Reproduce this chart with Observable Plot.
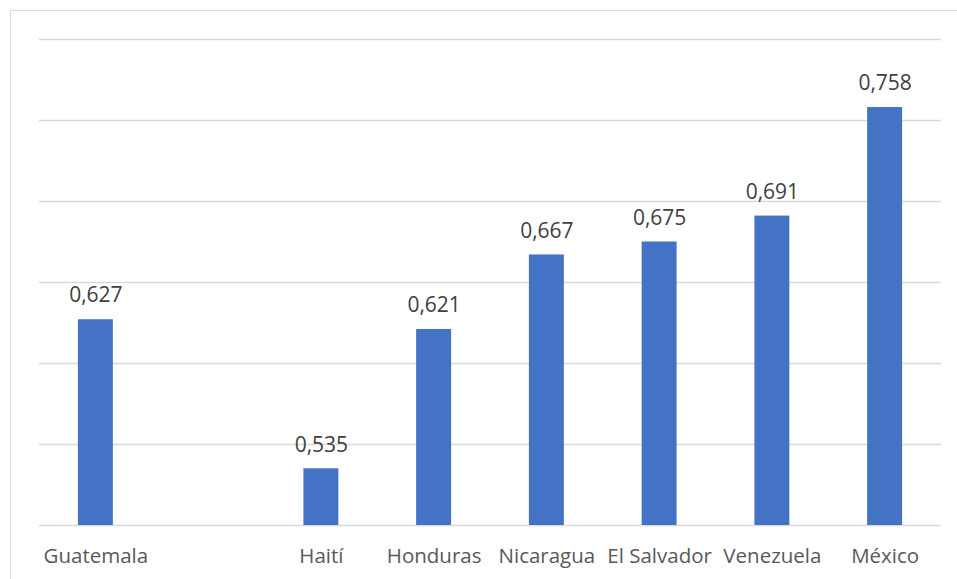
<!DOCTYPE html>
<html>
<head>
<meta charset="utf-8">
<script src="https://cdn.jsdelivr.net/npm/d3@7"></script>
<script src="https://cdn.jsdelivr.net/npm/@observablehq/plot@0.6"></script>
<style>
  html, body { margin: 0; padding: 0; background: #fff; }
  #wrap { position: relative; width: 957px; height: 579px; overflow: hidden; }
  #border { position: absolute; left: 10px; top: 10px; width: 960px; height: 600px; border-left: 1px solid #d9d9d9; border-top: 1px solid #d9d9d9; box-sizing: border-box; }
  #chart { position: absolute; left: 0; top: 0; }
</style>
</head>
<body>
<div id="wrap"><div id="border"></div><div id="chart"></div></div>
<script>
const categories = ["Guatemala", " ", "Haití", "Honduras", "Nicaragua", "El Salvador", "Venezuela", "México"];
const countries = ["Guatemala", "Haití", "Honduras", "Nicaragua", "El Salvador", "Venezuela", "México"];
const values = [0.627, 0.535, 0.621, 0.667, 0.675, 0.691, 0.758];
const yTicks = [0.5, 0.55, 0.6, 0.65, 0.7, 0.75, 0.8];

const data = countries.map((c, i) => ({country: c, value: values[i]}));
const font = "'Open Sans', sans-serif";

const chart = Plot.plot({
  width: 957,
  height: 579,
  marginLeft: 39,
  marginRight: 16,
  marginTop: 39,
  marginBottom: 54,
  style: {fontFamily: font, background: "transparent"},
  x: {domain: categories, paddingInner: 0.69, paddingOuter: 0.345, round: false, label: null},
  y: {domain: [0.5, 0.8], label: null, axis: null},
  marks: [
    Plot.ruleY(yTicks, {stroke: "#d9d9d9", strokeWidth: 1.3}),
    Plot.barY(data, {x: "country", y1: () => 0.5, y2: "value", fill: "#4472c4"}),
    Plot.text(data, {x: "country", y: "value", text: d => d.value.toFixed(3).replace(".", ","), dy: -24, fontSize: 21, fill: "#404040"}),
    Plot.axisX({tickSize: 0, tickPadding: 23, fontSize: 20.5, fill: "#595959", tickFormat: d => d.trim(), label: null})
  ]
});
document.getElementById("chart").appendChild(chart);
</script>
</body>
</html>
